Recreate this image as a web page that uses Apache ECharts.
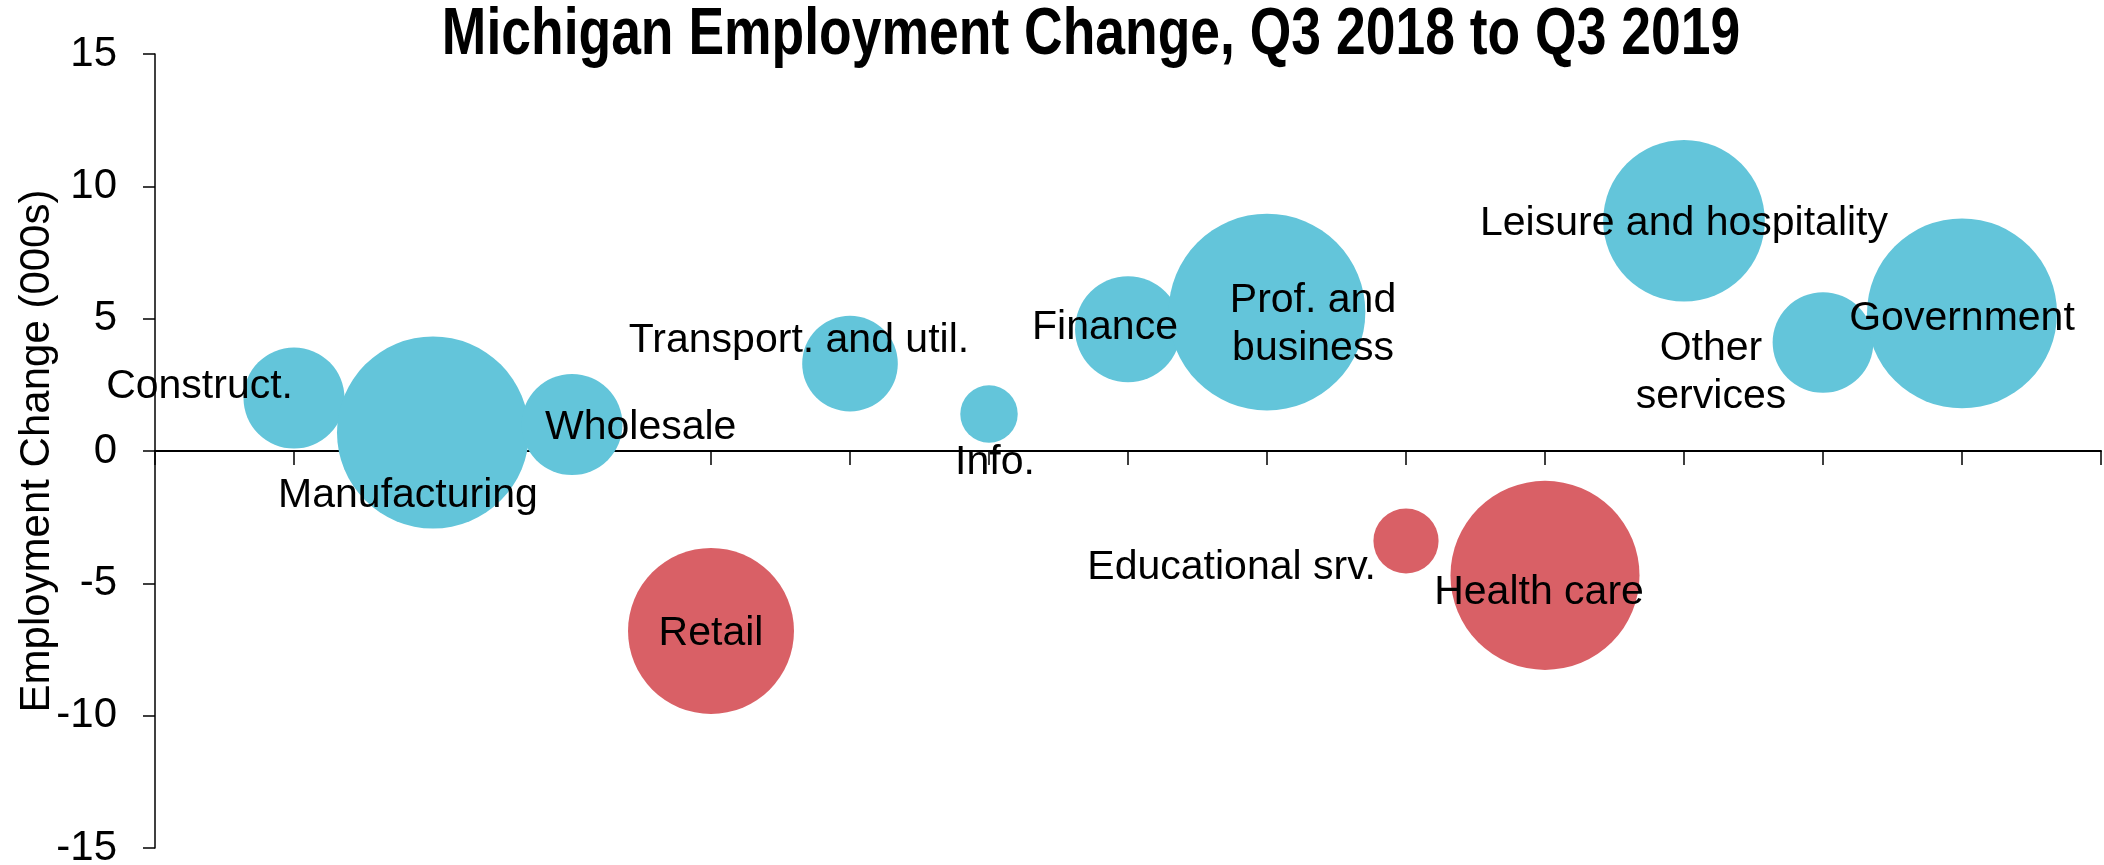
<!DOCTYPE html>
<html>
<head>
<meta charset="utf-8">
<script src="https://cdn.jsdelivr.net/npm/echarts@6/dist/echarts.min.js"></script>
<style>
  html, body { margin: 0; padding: 0; background: #fff; }
  #chart { width: 2104px; height: 865px; }
</style>
</head>
<body>
<div id="chart"></div>
<script>
// Sectors, change in employment (000s) and sector size (000s, bubble area)
var sectors = ['Construct.', 'Manufacturing', 'Wholesale', 'Retail', 'Transport. and util.', 'Info.',
  'Finance', 'Prof. and\nbusiness', 'Educational srv.', 'Health care', 'Leisure and hospitality',
  'Other\nservices', 'Government'];
var change = [2.0, 0.7, 1.0, -6.8, 3.3, 1.4, 4.6, 5.25, -3.4, -4.7, 8.7, 4.1, 5.2];
var employment = [173, 625, 173, 467, 155, 56, 190, 656, 72, 606, 443, 172, 612];
var yTicks = [-15, -10, -5, 0, 5, 10, 15];

// where each label sits relative to its bubble
var labelPlace = [
  { align: 'right', offset: [-1, -11] },
  { align: 'center', offset: [-25, 63] },
  { align: 'left', offset: [-27, 3] },
  { align: 'center', offset: [0, 3] },
  { align: 'center', offset: [-51, -23] },
  { align: 'center', offset: [6, 49] },
  { align: 'center', offset: [-23, -2] },
  { align: 'center', offset: [46, 13] },
  { align: 'right', offset: [-30, 27] },
  { align: 'center', offset: [-6, 17] },
  { align: 'center', offset: [0, 3] },
  { align: 'center', offset: [-112, 30] },
  { align: 'center', offset: [0, 5] }
];

var BLUE = '#63C5DA';
var RED = '#D96066';
var FONT = "'Liberation Sans', Arial, sans-serif";

var points = sectors.map(function (name, i) {
  return {
    name: name,
    value: [i + 1, change[i], employment[i]],
    itemStyle: { color: change[i] < 0 ? RED : BLUE, opacity: 1 },
    label: labelPlace[i]
  };
});

var chart = echarts.init(document.getElementById('chart'));

chart.setOption({
  animation: false,
  // narrow bold title: bold face squeezed horizontally
  graphic: [{
    type: 'text',
    x: 1091,
    y: 36,
    scaleX: 0.81,
    style: {
      text: 'Michigan Employment Change, Q3 2018 to Q3 2019',
      font: "bold 66px 'Liberation Sans', Arial, sans-serif",
      fill: '#000',
      align: 'center',
      verticalAlign: 'middle'
    }
  }],
  grid: { left: 155, right: 3, top: 54, bottom: 17, containLabel: false, outerBoundsMode: 'none' },
  xAxis: {
    type: 'value',
    min: 0,
    max: 14,
    interval: 1,
    axisLine: { onZero: true, lineStyle: { color: '#000', width: 2 } },
    axisTick: { show: true, length: 14, lineStyle: { color: '#000', width: 1.5 } },
    axisLabel: { show: false },
    splitLine: { show: false }
  },
  yAxis: {
    type: 'value',
    min: yTicks[0],
    max: yTicks[yTicks.length - 1],
    interval: 5,
    name: 'Employment Change (000s)',
    nameLocation: 'middle',
    nameGap: 97,
    nameMoveOverlap: false,
    nameTextStyle: { fontFamily: FONT, fontSize: 42, color: '#000' },
    axisLine: { show: true, lineStyle: { color: '#000', width: 1.5 } },
    axisTick: { show: true, length: 12, lineStyle: { color: '#000', width: 1.5 } },
    axisLabel: { margin: 38, fontFamily: FONT, fontSize: 42, color: '#000' },
    splitLine: { show: false }
  },
  series: [{
    type: 'scatter',
    data: points,
    symbolSize: function (val) { return 7.68 * Math.sqrt(val[2]); },
    label: {
      show: true,
      position: 'inside',
      formatter: '{b}',
      fontFamily: FONT,
      fontSize: 41,
      lineHeight: 48,
      color: '#000',
      textBorderWidth: 0,
      verticalAlign: 'middle'
    },
    emphasis: { disabled: true }
  }]
});
</script>
</body>
</html>
